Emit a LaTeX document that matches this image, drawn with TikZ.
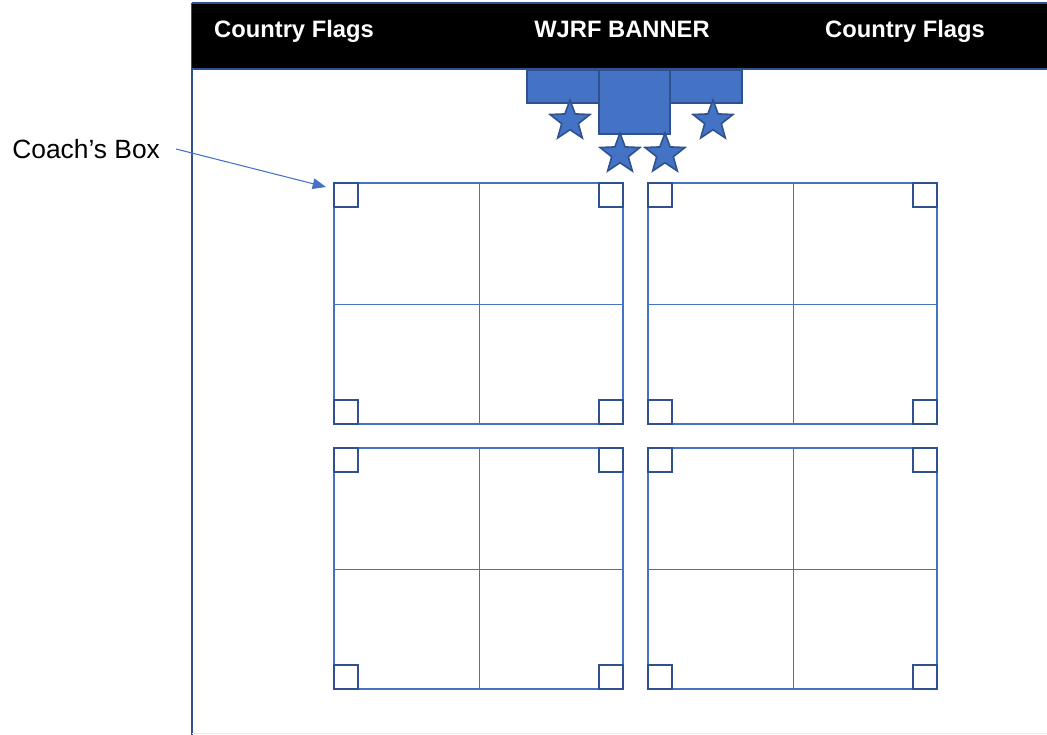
\documentclass[tikz,border=0pt]{standalone}
\usepackage{fontspec}
\setmainfont{Liberation Sans}
\usetikzlibrary{shapes.geometric,arrows.meta}
\definecolor{mblue}{HTML}{4472C4}
\definecolor{dblue}{HTML}{2F528F}
\begin{document}
\begin{tikzpicture}[x=0.75pt,y=-0.75pt,
  matline/.style={draw=mblue,line width=1.6pt},
  gridline/.style={draw=mblue,line width=0.7pt},
  corner/.style={draw=dblue,line width=2.2pt},
  blk/.style={fill=mblue,draw=dblue,line width=1.4pt},
  starshape/.style={star,star points=5,star point ratio=2.4,fill=mblue,draw=dblue,line width=1.2pt,minimum size=42*0.75pt,inner sep=0pt},
  bannertext/.style={text=white,anchor=base,font=\bfseries\fontsize{17.8}{20}\selectfont},
]
\useasboundingbox (0,0) rectangle (1047,735);
% frame
\draw[draw=dblue,line width=1.5pt] (192,735) -- (192,3);
\fill[black] (192,3) rectangle (1047,69);
\draw[draw=dblue,line width=1.3pt] (192,3) -- (1047,3);
\draw[draw=dblue,line width=1.3pt] (192,69) -- (1047,69);
\node[bannertext] (cf1) at (294,38) {Country Flags};
\node[bannertext] (ban) at (622,38) {WJRF BANNER};
\node[bannertext] (cf2) at (905,38) {Country Flags};
% banner blocks
\draw[blk] (527,70) rectangle (600,103);
\draw[blk] (670,70) rectangle (742,103);
\draw[blk] (599,70) rectangle (670,134);
\node[starshape] (s1) at (570,121) {};
\node[starshape] (s2) at (713,121) {};
\node[starshape] (s3) at (620,154) {};
\node[starshape] (s4) at (665,154) {};
% mats
\foreach \x/\y [count=\i] in {334/183, 648/183, 334/448, 648/448} {
  \draw[matline] (\x,\y) rectangle ++(289,241);
  \draw[gridline] (\x+145,\y) -- (\x+145,\y+241);
  \draw[gridline] (\x,\y+121) -- (\x+289,\y+121);
  \draw[corner] (\x,\y) rectangle ++(24,24);
  \draw[corner] (\x+265,\y) rectangle ++(24,24);
  \draw[corner] (\x,\y+217) rectangle ++(24,24);
  \draw[corner] (\x+265,\y+217) rectangle ++(24,24);
}
\coordinate (tgt) at (326,187);
\node[font=\fontsize{19.8}{22}\selectfont,anchor=west,inner sep=0pt] (coach) at (12,149) {Coach’s Box};
\draw[draw=mblue,line width=0.8pt,-{Triangle[length=10pt,width=8pt]}] (176,149) -- (tgt);
\draw[draw=black!8,line width=0.5pt] (192,733) -- (1047,733);
\end{tikzpicture}
\end{document}
